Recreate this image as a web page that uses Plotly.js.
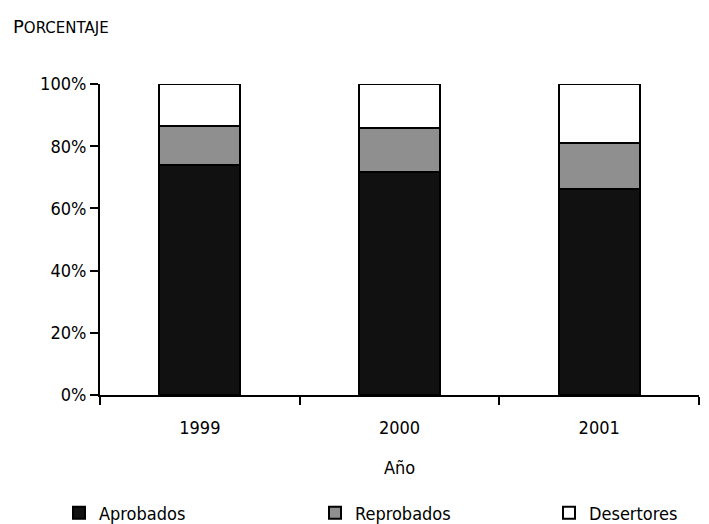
<!DOCTYPE html>
<html>
<head>
<meta charset="utf-8">
<script src="https://cdn.plot.ly/plotly-3.0.1.min.js"></script>
<style>html,body{margin:0;padding:0;background:#fff;}#chart{width:709px;height:524px;}</style>
</head>
<body>
<div id="chart"></div>
<script>
const years = ['1999', '2000', '2001'];
const aprobados = [74.0, 71.6, 66.2];
const reprobados = [12.5, 14.2, 14.9];
const desertores = [13.5, 14.2, 18.9];
const yTicks = [0, 20, 40, 60, 80, 100];
const yTickLabels = ['0%', '20%', '40%', '60%', '80%', '100%'];

const FONT = '"DejaVu Sans Condensed", "Liberation Sans Narrow", sans-serif';
const line = {color: '#000', width: 2};

const traces = [
  {type: 'bar', name: 'Aprobados', x: years, y: aprobados, marker: {color: '#111111', line: line}, legend: 'legend'},
  {type: 'bar', name: 'Reprobados', x: years, y: reprobados, marker: {color: '#8f8f8f', line: line}, legend: 'legend2'},
  {type: 'bar', name: 'Desertores', x: years, y: desertores, marker: {color: '#ffffff', line: line}, legend: 'legend3'}
];

function leg(px) {
  return {
    orientation: 'h', xref: 'container', yref: 'container',
    x: px / 709, y: 1 - 513 / 524, xanchor: 'left', yanchor: 'middle',
    bgcolor: 'rgba(0,0,0,0)', borderwidth: 0,
    font: {family: FONT, size: 18, color: '#000'},
    itemwidth: 30
  };
}

const layout = {
  width: 709, height: 524,
  margin: {l: 100, r: 10, t: 84, b: 129},
  barmode: 'stack',
  bargap: 0.595,
  paper_bgcolor: '#fff', plot_bgcolor: '#fff',
  font: {family: FONT, size: 18, color: '#000'},
  showlegend: true,
  legend: leg(59),
  legend2: leg(315),
  legend3: leg(549),
  xaxis: {
    type: 'category',
    showline: true, linecolor: '#000', linewidth: 2,
    ticks: 'outside', tickson: 'boundaries', ticklen: 8, tickwidth: 2, tickcolor: '#000',
    ticklabelstandoff: 15,
    showgrid: false, zeroline: false,
    tickfont: {family: FONT, size: 18},
    title: {text: 'Año', font: {family: FONT, size: 18}, standoff: 25}
  },
  yaxis: {
    range: [0, 100],
    tickvals: yTicks, ticktext: yTickLabels,
    showline: true, linecolor: '#000', linewidth: 2,
    ticks: 'outside', ticklen: 8, tickwidth: 2, tickcolor: '#000',
    showgrid: false, zeroline: false,
    tickfont: {family: FONT, size: 18}
  },
  annotations: [{
    xref: 'paper', yref: 'paper', x: (11 - 100) / 599, y: (395 - 26) / 311,
    xanchor: 'left', yanchor: 'middle', showarrow: false,
    text: 'P<span style="font-size:15px">ORCENTAJE</span>',
    font: {family: '"DejaVu Sans", sans-serif', size: 18, color: '#000'}
  }]
};

Plotly.newPlot('chart', traces, layout, {displayModeBar: false, staticPlot: true});
</script>
</body>
</html>
